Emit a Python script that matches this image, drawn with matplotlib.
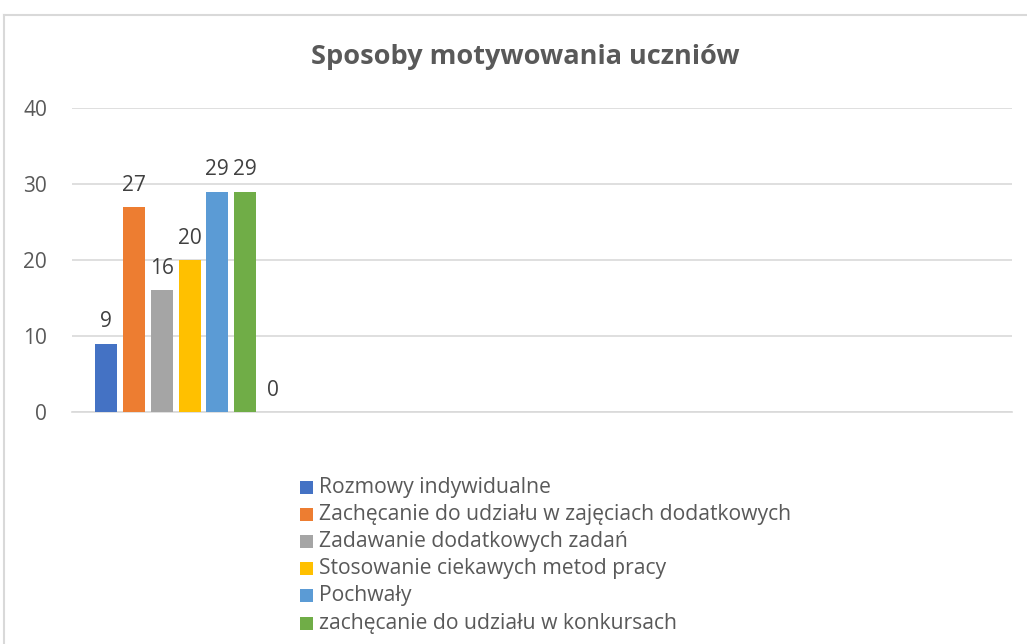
import matplotlib.pyplot as plt
from matplotlib.lines import Line2D
from matplotlib.patches import Rectangle

series = ["Rozmowy indywidualne",
          "Zachęcanie do udziału w zajęciach dodatkowych",
          "Zadawanie dodatkowych zadań",
          "Stosowanie ciekawych metod pracy",
          "Pochwały",
          "zachęcanie do udziału w konkursach",
          ""]
values = [9, 27, 16, 20, 29, 29, 0]
colors = ["#4472C4", "#ED7D31", "#A5A5A5", "#FFC000", "#5B9BD5", "#70AD47", "#264478"]
n_categories = 4
yticks = [0, 10, 20, 30, 40]

W, H = 1027, 644
fig = plt.figure(figsize=(W / 100, H / 100), dpi=100)
plt.rcParams['font.family'] = ['Open Sans', 'DejaVu Sans']

def fx(px):
    return px / W

def fy(py):
    return 1 - py / H

ax = fig.add_axes([fx(72), fy(412), fx(1012) - fx(72), fy(108) - fy(412)])
ax.set_xlim(0, n_categories)
ax.set_ylim(0, 40)

step = 27.83 / 235
width = 22 / 235
nser = len(values)
for i, (v, c) in enumerate(zip(values, colors)):
    x = 0.5 + (i - (nser - 1) / 2) * step
    ax.bar(x, v, width=width, color=c, zorder=3)
    ax.annotate(str(v), (x, v), xytext=(0, 8), textcoords='offset points',
                ha='center', va='bottom', fontsize=15, color='#404040')

ax.set_yticks(yticks)
ax.set_yticklabels([str(t) for t in yticks], fontsize=15, color='#595959')
ax.tick_params(axis='y', length=0, pad=18)
ax.set_xticks([])
ax.grid(axis='y', color='#d9d9d9', linewidth=1.2, zorder=0)
for s in ['top', 'right', 'left']:
    ax.spines[s].set_visible(False)
ax.spines['bottom'].set_color('#d9d9d9')
ax.spines['bottom'].set_linewidth(1.2)

fig.text(fx(525), fy(57), "Sposoby motywowania uczniów", ha='center', va='center',
         fontsize=19.5, fontweight='bold', color='#595959')

row0 = 487
row_step = 27.2
for i, (name, c) in enumerate(zip(series[:6], colors[:6])):
    yc = row0 + i * row_step
    fig.add_artist(Rectangle((fx(300), fy(yc + 6.5)), fx(13), 13 / H,
                             transform=fig.transFigure, facecolor=c, edgecolor='none'))
    fig.text(fx(319), fy(yc), name, ha='left', va='center', fontsize=15.2, color='#595959')

fig.add_artist(Line2D([fx(4), 1], [fy(15), fy(15)], color='#d9d9d9', linewidth=1.5))
fig.add_artist(Line2D([fx(4), fx(4)], [0, fy(15)], color='#d9d9d9', linewidth=1.5))

fig.savefig("out.png", dpi=100, facecolor='white')
